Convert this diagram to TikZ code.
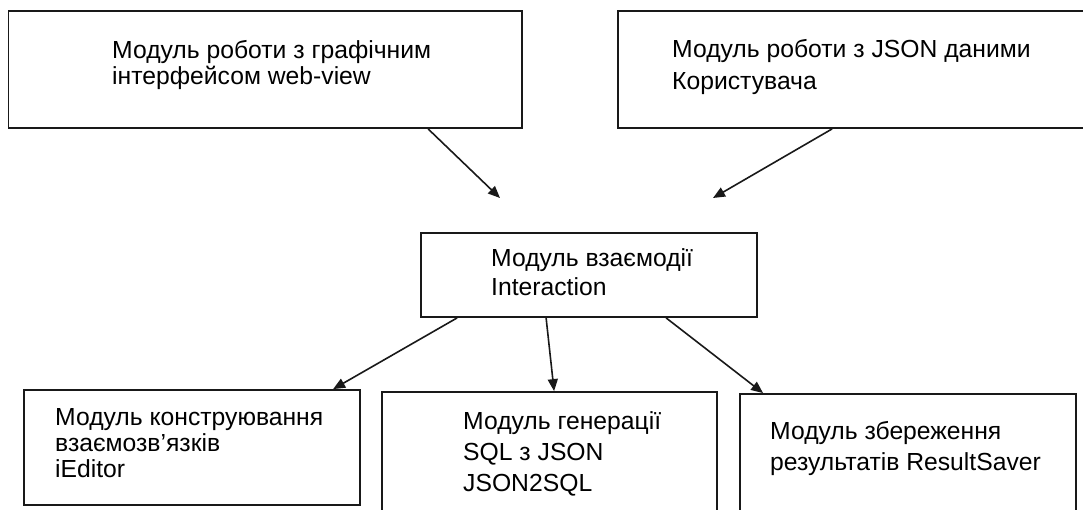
\documentclass[tikz,border=0pt]{standalone}
\usepackage{fontspec}
\setmainfont{Liberation Sans}
\usetikzlibrary{arrows.meta,calc}
\begin{document}
\begin{tikzpicture}[x=1pt,y=-1pt,
  box/.style={draw=black!90,line width=1.8pt,inner sep=0pt,fill=none},
  label/.style={anchor=north west,inner sep=0pt,align=left,font=\fontsize{24.7}{#1}\selectfont},
  link/.style={draw=black!90,line width=1.6pt,-{Triangle[length=12pt,width=10pt]}}]
\useasboundingbox (0,0) rectangle (1083,509);

% module boxes
\node[box,minimum width=513.5pt,minimum height=117pt] (gui)    at (265.25,69.5) {};
\node[box,minimum width=474pt,minimum height=117pt]   (json)   at (855,69.5) {};
\node[box,minimum width=336pt,minimum height=84pt]    (inter)  at (589,275) {};
\node[box,minimum width=336pt,minimum height=115pt]   (editor) at (192,447.5) {};
\node[box,minimum width=335pt,minimum height=128pt]   (gen)    at (549.5,456) {};
\node[box,minimum width=336pt,minimum height=126pt]   (saver)  at (908,457) {};

% captions
\node[label=26pt] (tgui)    at (112,40)    {Модуль роботи з графічним\\інтерфейсом web-view};
\node[label=32pt] (tjson)   at (672,39)    {Модуль роботи з JSON даними\\Користувача};
\node[label=29pt] (tinter)  at (491,248)   {Модуль взаємодії\\Interaction};
\node[label=26pt] (teditor) at (55,408.5)  {Модуль конструювання\\взаємозв’язків\\iEditor};
\node[label=31pt] (tgen)    at (463,411)   {Модуль генерації\\SQL з JSON\\JSON2SQL};
\node[label=31pt] (tsaver)  at (770,421)   {Модуль збереження\\результатів ResultSaver};

% free ends of the incoming arrows
\coordinate (in1) at (500,198);
\coordinate (in2) at (713,198);

% connectors
\draw[link] ($(gui.south west)+(420.5,0)$) -- (in1);
\draw[link] ($(json.south west)+(215,0)$) -- (in2);
\draw[link] ($(inter.south west)+(37,0)$) -- ($(editor.north west)+(310,0)$);
\draw[link] ($(inter.south west)+(126,0)$) -- ($(gen.north west)+(173,0)$);
\draw[link] ($(inter.south west)+(246,0)$) -- ($(saver.north west)+(24,0)$);
\end{tikzpicture}
\end{document}
